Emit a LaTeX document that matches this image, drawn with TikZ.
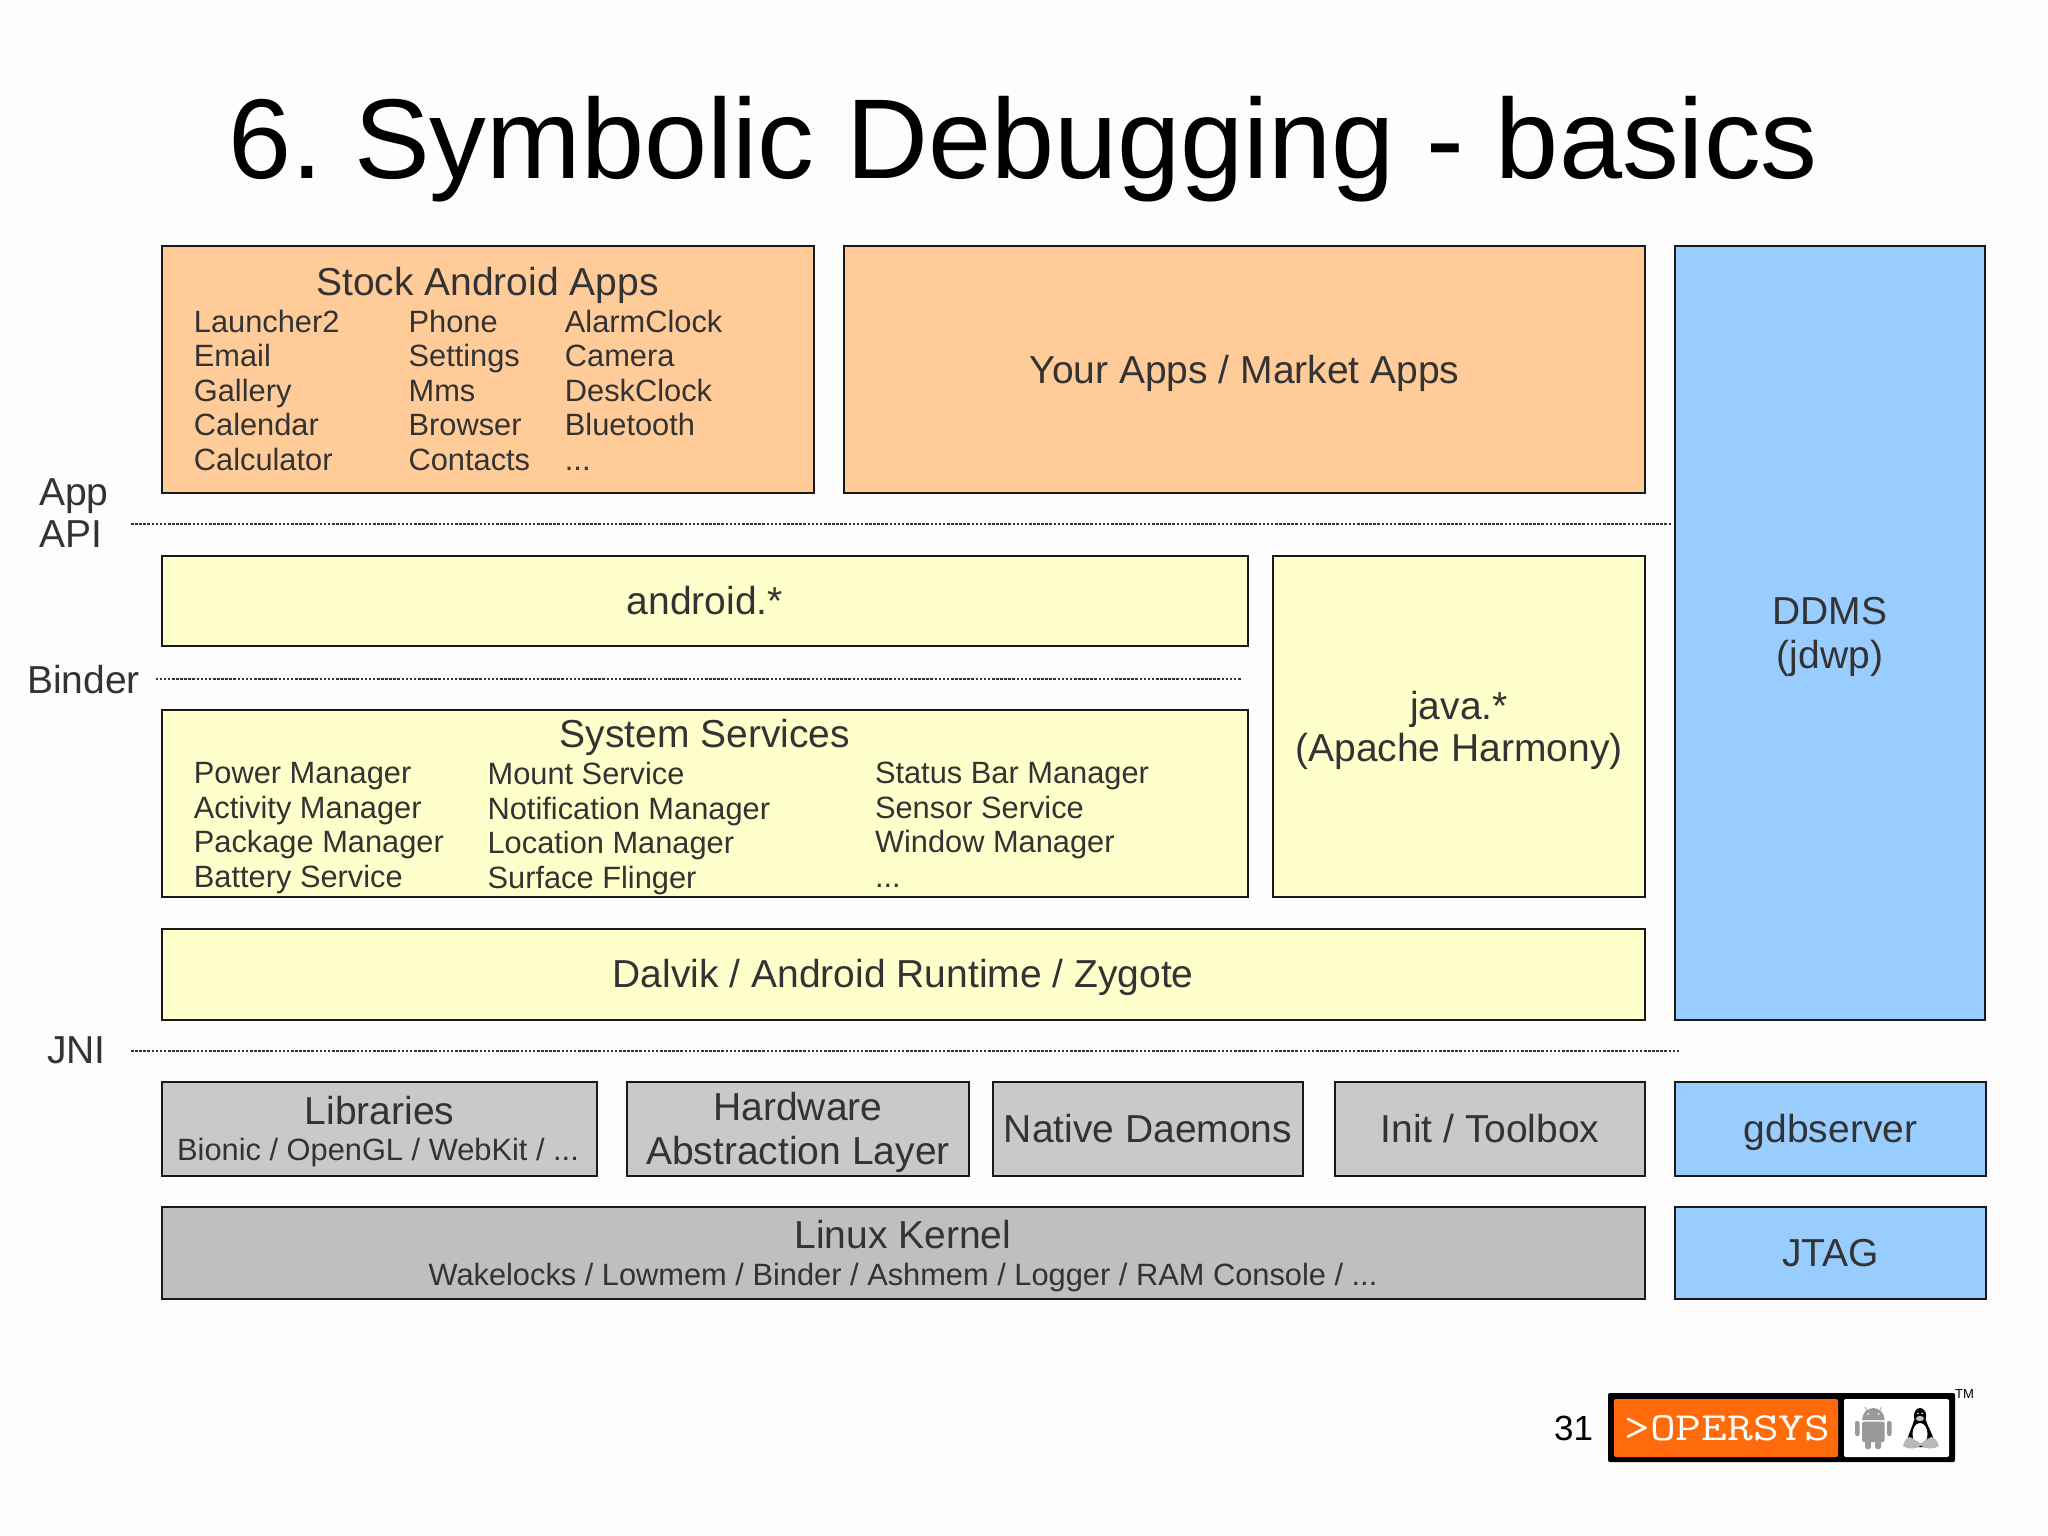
\documentclass[tikz,border=0pt]{standalone}
\usepackage{fontspec}
\usepackage{xcolor}
\usepackage{tikz}
\setmainfont{Liberation Sans}

\definecolor{pagewhite}{HTML}{FDFDFD}
\definecolor{apporange}{HTML}{FFCB98}
\definecolor{fwyellow}{HTML}{FFFFCC}
\definecolor{toolblue}{HTML}{99CCFF}
\definecolor{nativegrey}{HTML}{C9C9CB}
\definecolor{kernelgrey}{HTML}{C0BEC1}
\definecolor{inktext}{HTML}{333333}
\definecolor{logoorange}{HTML}{FF6A0A}
\definecolor{iconGrey}{HTML}{9A9A9A}

\newcommand{\titlesize}{\fontsize{113.5}{130}\selectfont}
\newcommand{\labelsize}{\fontsize{39}{44.4}\selectfont}
\newcommand{\listsize}{\fontsize{30.8}{34.6}\selectfont}
\newcommand{\topstrut}{\rule{0pt}{35.3pt}}

\tikzset{
  layerbox/.style={draw=black!90,line width=2pt,anchor=north west,inner sep=0pt,outer sep=0pt,
    text=inktext,font=\labelsize,align=center},
  oneline/.style={text height=35.3pt,text depth=8.3pt},
  sepline/.style={draw=black!80,line width=1.3pt,dash pattern=on 2.6pt off 1.5pt},
  heading/.style={anchor=base,inner sep=0pt,text=inktext,font=\labelsize},
  sublist/.style={anchor=base,inner sep=0pt,text=inktext,font=\listsize},
  column/.style={anchor=north west,inner sep=0pt,text=inktext,font=\listsize,align=left},
  sidelabel/.style={anchor=base west,inner sep=0pt,text=inktext,font=\labelsize,align=left},
}

\begin{document}
\frenchspacing
\begin{tikzpicture}[x=1pt,y=-1pt]
    \useasboundingbox (0,0) rectangle (2048,1535);
    \fill[pagewhite] (0,0) rectangle (2048,1535);

    \node[anchor=base,inner sep=0pt,font=\titlesize] (title) at (1023,178) {6. Symbolic Debugging - basics};

    % apps
    \node[layerbox,fill=apporange,minimum width=652pt,minimum height=247pt] (stock) at (161.5,246) {};
    \node[heading] (stocktitle) at (487.5,295.7) {Stock Android Apps};
    \node[column] (stockone) at (193.7,309.5) {Launcher2\\Email\\Gallery\\Calendar\\Calculator};
    \node[column] (stocktwo) at (408.4,309.5) {Phone\\Settings\\Mms\\Browser\\Contacts};
    \node[column] (stockthree) at (564.7,309.5) {AlarmClock\\Camera\\DeskClock\\Bluetooth\\...};
    \node[layerbox,oneline,fill=apporange,minimum width=801pt,minimum height=247pt] (yourapps) at (844,246) {Your Apps / Market Apps};
    \node[layerbox,fill=toolblue,minimum width=310pt,minimum height=774pt] (ddms) at (1675,246) {\topstrut DDMS\\(jdwp)};

    % framework
    \node[layerbox,oneline,fill=fwyellow,minimum width=1086.5pt,minimum height=89.5pt] (android) at (161.5,556) {android.*};
    \node[layerbox,fill=fwyellow,minimum width=372pt,minimum height=341pt] (java) at (1273,556) {\topstrut java.*\\[-2.4pt](Apache Harmony)};
    \node[layerbox,fill=fwyellow,minimum width=1086.5pt,minimum height=187pt] (services) at (161.5,710) {};
    \node[heading] (servicestitle) at (705,747) {System Services};
    \node[column] (servone) at (193.7,762) {Power Manager\\Activity Manager\\Package Manager\\Battery Service};
    \node[column] (servtwo) at (487.4,762) {Mount Service\\Notification Manager\\Location Manager\\Surface Flinger};
    \node[column] (servthree) at (874.8,762) {Status Bar Manager\\Sensor Service\\Window Manager\\...};
    \node[layerbox,oneline,fill=fwyellow,minimum width=1483.5pt,minimum height=90.5pt] (dalvik) at (161.5,929) {Dalvik / Android Runtime / Zygote};

    % native
    \node[layerbox,fill=nativegrey,minimum width=435.5pt,minimum height=94pt] (libs) at (161.5,1082) {};
    \node[heading] (libstitle) at (379.7,1124.5) {Libraries};
    \node[sublist] (libssub) at (378,1160.5) {Bionic / OpenGL / WebKit / ...};
    \node[layerbox,fill=nativegrey,minimum width=342pt,minimum height=94pt] (hal) at (627,1082) {\topstrut Hardware\\Abstraction Layer};
    \node[layerbox,oneline,fill=nativegrey,minimum width=310pt,minimum height=94pt] (daemons) at (993,1082) {Native Daemons};
    \node[layerbox,oneline,fill=nativegrey,minimum width=310pt,minimum height=94pt] (toolbox) at (1335,1082) {Init / Toolbox};
    \node[layerbox,oneline,fill=toolblue,minimum width=311pt,minimum height=94pt] (gdb) at (1675,1082) {gdbserver};
    \node[layerbox,fill=kernelgrey,minimum width=1483.5pt,minimum height=92pt] (kernel) at (161.5,1207) {};
    \node[heading] (kerneltitle) at (903,1248.5) {Linux Kernel};
    \node[sublist] (kernelsub) at (903,1285.5) {Wakelocks / Lowmem / Binder / Ashmem / Logger / RAM Console / ...};
    \node[layerbox,oneline,fill=toolblue,minimum width=311pt,minimum height=92pt] (jtag) at (1675,1207) {JTAG};

    % side labels and dotted borders
    \node[sidelabel] (applabel) at (39,505.4) {App};
    \node[sidelabel] (apilabel) at (39,547.4) {API};
    \node[sidelabel] (binderlabel) at (27,693) {Binder};
    \node[sidelabel] (jnilabel) at (47,1063.5) {JNI};
    \coordinate (apileft) at (131,524);
    \coordinate (apiright) at (1672.6,524);
    \coordinate (binderleft) at (155.5,679);
    \coordinate (binderright) at (1241,679);
    \coordinate (jnileft) at (131,1051);
    \coordinate (jniright) at (1679,1051);
    \draw[sepline] (apileft) -- (apiright);
    \draw[sepline] (binderleft) -- (binderright);
    \draw[sepline] (jnileft) -- (jniright);

    % page number and logo
    \node[anchor=base west,inner sep=0pt,font=\fontsize{35}{40}\selectfont] (pageno) at (1554,1440.5) {31};
    \fill[black,rounded corners=2pt] (1608,1393) rectangle (1955,1462);
    \fill[logoorange,rounded corners=2pt] (1614,1399) rectangle (1838,1457);
    \fill[white,rounded corners=2pt] (1844,1399) rectangle (1949,1457);
    \node[anchor=base west,inner sep=0pt,text=white,transform shape,xscale=1.25,font=\fontsize{40}{44}\selectfont\ttfamily\addfontfeatures{FakeBold=1}] (opersys) at (1624,1440) {>OPERSYS};
    \node[anchor=base west,inner sep=0pt,font=\fontsize{13}{14}\selectfont] (tm) at (1955,1398) {TM};

    % android
    \begin{scope}[iconGrey]
      \fill (1862,1420) arc[start angle=180,end angle=0,x radius=11.3pt,y radius=12pt] -- cycle;
      \fill[rounded corners=1.5pt] (1862,1421.5) rectangle (1884.6,1442);
      \fill[rounded corners=2pt] (1855,1421) rectangle (1859.6,1436);
      \fill[rounded corners=2pt] (1887,1421) rectangle (1891.6,1436);
      \fill[rounded corners=2pt] (1865,1436) rectangle (1871,1449);
      \fill[rounded corners=2pt] (1875,1436) rectangle (1881,1449);
      \draw[line width=.7pt] (1867,1411) -- (1865,1407);
      \draw[line width=.7pt] (1879.5,1411) -- (1881.5,1407);
    \end{scope}
    \fill[white] (1868,1414) circle (1pt);
    \fill[white] (1878.6,1414) circle (1pt);

    % tux
    \fill[black] (1920,1416) ellipse[x radius=6.2pt,y radius=8pt];
    \fill[black] (1907,1441) .. controls (1909,1432) and (1912,1428) .. (1914,1420) -- (1926,1420)
      .. controls (1928,1428) and (1932,1432) .. (1934,1441) -- (1928,1447) -- (1912,1447) -- cycle;
    \fill[pagewhite] (1920,1434) ellipse[x radius=7.5pt,y radius=11pt];
    \fill[iconGrey!60] (1920,1418.5) ellipse[x radius=4pt,y radius=2.6pt];
    \fill[white] (1918,1413.5) circle (.9pt);
    \fill[white] (1922,1413.5) circle (.9pt);
    \fill[iconGrey!70] (1903,1446) .. controls (1904,1441) and (1907,1437) .. (1910,1437)
      .. controls (1915,1440) and (1921,1443) .. (1922,1445) .. controls (1916,1449) and (1908,1450) .. (1903,1446) -- cycle;
    \fill[iconGrey!70] (1939,1446) .. controls (1938,1441) and (1934,1437) .. (1931,1437)
      .. controls (1926,1440) and (1920,1443) .. (1920,1445) .. controls (1925,1449) and (1933,1450) .. (1939,1446) -- cycle;
  \end{tikzpicture}
\end{document}
